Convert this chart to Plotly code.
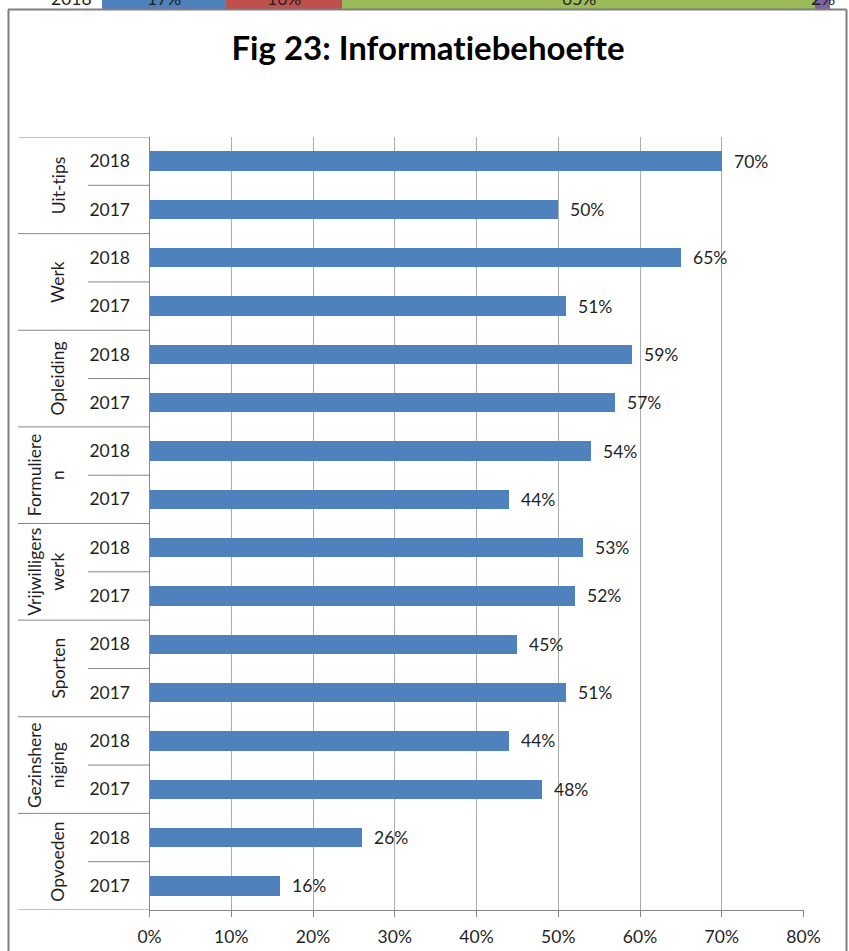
import plotly.graph_objects as go

# ---------------- data ----------------
groups = ["Uit-tips", "Werk", "Opleiding", "Formulieren", "Vrijwilligerswerk",
          "Sporten", "Gezinshereniging", "Opvoeden"]
group_labels = ["Uit-tips", "Werk", "Opleiding", "Formuliere<br>n", "Vrijwilligers<br>werk",
                "Sporten", "Gezinshere<br>niging", "Opvoeden"]
years = ["2018", "2017"]
values_2018 = [70, 65, 59, 54, 53, 45, 44, 26]
values_2017 = [50, 51, 57, 44, 52, 51, 48, 16]
x_ticks = [0, 10, 20, 30, 40, 50, 60, 70, 80]

# remnant of the previous chart visible at the very top of the screenshot
prev_year = "2018"
prev_values = [17, 16, 65, 2]
prev_colors = ["#4F81BD", "#C0504D", "#9BBB59", "#8064A2"]

title_text = "Fig 23: Informatiebehoefte"

# ---------------- layout constants (pixels) ----------------
W, H = 849, 951
def px(x):
    return x / W
def py(y):
    return 1 - y / H

FONT = "Lato"
TXT = "#1F1F1F"
AXIS = "#868686"
GRID = "#ABABAB"
BLUE = "#4F81BD"

# build rows
y_idx, x_val, y_txt = [], [], []
for g in range(len(groups)):
    for j, yr in enumerate(years):
        y_idx.append(2 * g + j)
        x_val.append(values_2018[g] if yr == "2018" else values_2017[g])
        y_txt.append(yr)
n = len(y_idx)

fig = go.Figure()
fig.add_trace(go.Bar(
    x=x_val, y=y_idx, orientation="h",
    marker=dict(color=BLUE, line=dict(width=0)),
    hoverinfo="skip", showlegend=False, xaxis="x", yaxis="y",
))

# previous-chart remnant (stacked)
for v, c in zip(prev_values, prev_colors):
    fig.add_trace(go.Bar(
        x=[v], y=[0], orientation="h", marker=dict(color=c, line=dict(width=0)),
        xaxis="x2", yaxis="y2", showlegend=False, hoverinfo="skip", width=1,
    ))

annotations = []
# data labels
for yi, xv in zip(y_idx, x_val):
    annotations.append(dict(
        x=xv, y=yi, xref="x", yref="y", text=f"{xv}%", showarrow=False,
        xanchor="left", yanchor="middle", xshift=10,
        font=dict(family=FONT, size=17.5, color=TXT),
    ))
# group labels
for g, lab in enumerate(group_labels):
    two = "<br>" in lab
    annotations.append(dict(
        x=px(46 if two else 58), y=2 * g + 0.5, xref="paper", yref="y",
        text=lab, showarrow=False, textangle=-90,
        xanchor="center", yanchor="middle",
        font=dict(family=FONT, size=17.5, color=TXT),
    ))
# remnant texts (mostly cut off above the page, as in the screenshot)
annotations.append(dict(
    x=px(71), y=py(-1.5), xref="paper", yref="paper", text=prev_year,
    showarrow=False, xanchor="center", yanchor="middle",
    font=dict(family=FONT, size=17.5, color=TXT),
))
cum = 0
for v in prev_values:
    annotations.append(dict(
        x=cum + v / 2, y=py(-1.5), xref="x2", yref="paper", text=f"{v}%",
        showarrow=False, xanchor="center", yanchor="middle",
        font=dict(family=FONT, size=17.5, color=TXT),
    ))
    cum += v

shapes = []
# category box: top line, year dividers, group dividers
shapes.append(dict(type="line", xref="paper", yref="y", x0=px(19), x1=px(149.5),
                   y0=-0.5, y1=-0.5, line=dict(color=AXIS, width=1)))
for g in range(len(groups)):
    shapes.append(dict(type="line", xref="paper", yref="y", x0=px(88), x1=px(149.5),
                       y0=2 * g + 0.5, y1=2 * g + 0.5, line=dict(color=AXIS, width=1)))
    yy = 2 * g + 1.5
    shapes.append(dict(type="line", xref="paper", yref="y", x0=px(18), x1=px(149.5),
                       y0=yy, y1=yy, line=dict(color=AXIS, width=1)))
# chart border
for (x0, y0, x1, y1) in [(8.5, 9.5, 8.5, 960), (8, 9.5, 846.5, 9.5), (846.5, 9.5, 846.5, 960)]:
    shapes.append(dict(type="line", xref="paper", yref="paper",
                       x0=px(x0), x1=px(x1), y0=py(y0), y1=py(y1),
                       line=dict(color="#7F7F7F", width=2)))

fig.update_layout(
    width=W, height=H, autosize=False,
    margin=dict(l=0, r=0, t=0, b=0, pad=0, autoexpand=False),
    paper_bgcolor="white", plot_bgcolor="white",
    barmode="stack", bargap=0.6, showlegend=False,
    title=dict(text=f"<b>{title_text}</b>", x=px(428), xanchor="center",
               y=py(48), yanchor="middle", automargin=False,
               font=dict(family=FONT, size=33, color="#000000")),
    font=dict(family=FONT, size=17.5, color=TXT),
    xaxis=dict(
        domain=[px(149.5), px(803.5)], range=[0, 80],
        tickvals=x_ticks, ticktext=[f"{t}%" for t in x_ticks],
        showgrid=True, gridcolor=GRID, gridwidth=1,
        showline=True, linecolor=AXIS, linewidth=1,
        ticks="outside", ticklen=6, tickcolor=AXIS,
        zeroline=False, ticklabelstandoff=5, automargin=False,
        tickfont=dict(family=FONT, size=17.5, color=TXT),
        anchor="y", fixedrange=True,
    ),
    yaxis=dict(
        domain=[py(910), py(137)], range=[n - 0.5, -0.5],
        tickvals=y_idx, ticktext=y_txt,
        showgrid=False, showline=True, linecolor=AXIS, linewidth=1,
        ticks="", ticklabelstandoff=15, zeroline=False, automargin=False,
        tickfont=dict(family=FONT, size=17.5, color=TXT),
        anchor="x", fixedrange=True,
    ),
    xaxis2=dict(domain=[px(102), px(830)], range=[0, 100], visible=False,
                anchor="y2", fixedrange=True, automargin=False),
    yaxis2=dict(domain=[py(9), 1], range=[-0.5, 0.5], visible=False,
                anchor="x2", fixedrange=True, automargin=False),
    annotations=annotations, shapes=shapes,
)

fig.write_html(
    "out.html",
    config={"displayModeBar": False},
    post_script=(
        "document.body.style.margin='0';document.body.style.overflow='hidden';"
        "document.querySelectorAll('svg text').forEach(function(t){"
        "t.style.fontVariantLigatures='none';t.style.fontFeatureSettings='\"liga\" 0';});"
    ),
)
